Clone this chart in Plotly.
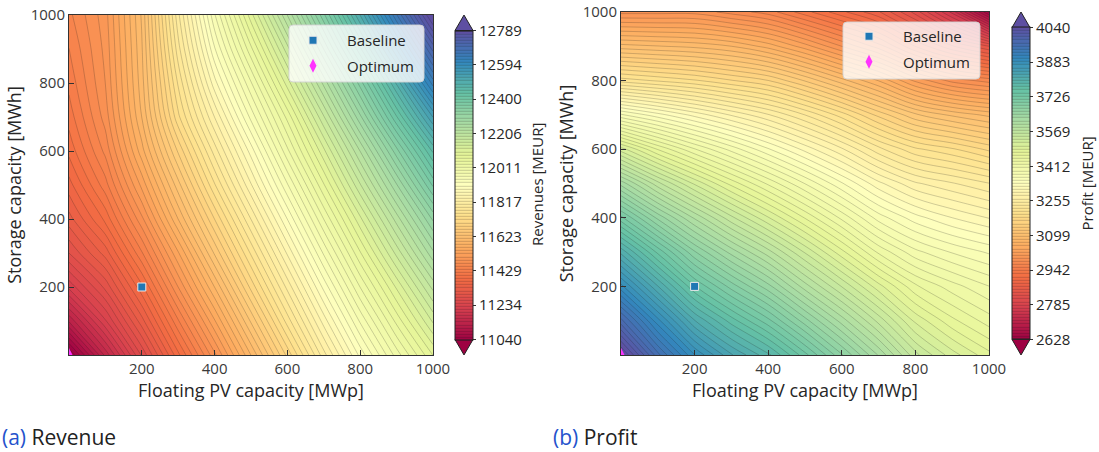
import plotly.graph_objects as go

W, H = 1099, 452

# ---------------- data ----------------
pv_capacity = [0, 100, 200, 300, 400, 500, 600, 700, 800, 900, 1000]        # MWp (x)
storage_capacity = [0, 100, 200, 300, 400, 500, 600, 700, 800, 900, 1000]   # MWh (y)

# revenue [MEUR], one row per storage capacity, columns = PV capacity
revenue = [
    [11020, 11150, 11270, 11385, 11490, 11600, 11710, 11820, 11920, 12010, 12090],
    [11130, 11230, 11330, 11440, 11545, 11655, 11765, 11870, 11970, 12060, 12145],
    [11220, 11290, 11385, 11495, 11600, 11710, 11815, 11920, 12020, 12110, 12200],
    [11285, 11345, 11440, 11545, 11655, 11760, 11865, 11970, 12070, 12165, 12260],
    [11330, 11395, 11490, 11600, 11705, 11810, 11915, 12020, 12120, 12220, 12320],
    [11365, 11435, 11535, 11645, 11755, 11860, 11965, 12070, 12175, 12280, 12390],
    [11395, 11465, 11575, 11690, 11800, 11905, 12015, 12120, 12230, 12345, 12460],
    [11415, 11485, 11600, 11735, 11845, 11955, 12060, 12175, 12295, 12420, 12545],
    [11430, 11495, 11610, 11760, 11890, 12000, 12115, 12235, 12360, 12495, 12640],
    [11442, 11500, 11615, 11785, 11930, 12050, 12170, 12300, 12435, 12580, 12725],
    [11455, 11505, 11620, 11805, 11965, 12100, 12230, 12365, 12510, 12665, 12815],
]

# profit [MEUR]
profit = [
    [4060, 3960, 3885, 3830, 3790, 3735, 3675, 3615, 3550, 3510, 3480],
    [3975, 3890, 3815, 3765, 3720, 3665, 3610, 3555, 3500, 3465, 3440],
    [3890, 3815, 3745, 3695, 3650, 3595, 3545, 3495, 3450, 3425, 3405],
    [3810, 3740, 3675, 3625, 3580, 3530, 3480, 3430, 3395, 3375, 3360],
    [3720, 3655, 3600, 3550, 3505, 3460, 3415, 3370, 3340, 3320, 3305],
    [3625, 3565, 3515, 3470, 3430, 3390, 3350, 3310, 3280, 3265, 3250],
    [3510, 3460, 3420, 3385, 3350, 3315, 3280, 3240, 3210, 3195, 3175],
    [3365, 3340, 3315, 3290, 3265, 3235, 3200, 3160, 3125, 3105, 3090],
    [3215, 3205, 3195, 3180, 3165, 3135, 3100, 3065, 3020, 2990, 2975],
    [3100, 3095, 3090, 3080, 3060, 3030, 2995, 2960, 2910, 2870, 2840],
    [2990, 2990, 2990, 2975, 2960, 2930, 2900, 2870, 2820, 2750, 2640],
]

revenue_ticks = [11040, 11234, 11429, 11623, 11817, 12011, 12206, 12400, 12594, 12789]
profit_ticks = [2628, 2785, 2942, 3099, 3255, 3412, 3569, 3726, 3883, 4040]
axis_ticks = [200, 400, 600, 800, 1000]

baseline_pv, baseline_storage = [200], [200]
optimum_pv, optimum_storage = [0], [0]

n_levels = 100

# ---------------- styling ----------------
FONT = "Open Sans"
TXT = "#262626"
spectral = ["#9e0142", "#d53e4f", "#f46d43", "#fdae61", "#fee08b", "#ffffbf",
            "#e6f598", "#abdda4", "#66c2a5", "#3288bd", "#5e4fa2"]
colorscale = [[i / 10, c] for i, c in enumerate(spectral)]


def px_x(px):
    return px / W


def px_y(py):
    return 1 - py / H


panels = [
    dict(z=revenue, ticks=revenue_ticks, title="Revenues [MEUR]",
         xdom=(69, 433), ydom=(15, 355), cb_x=455, cb_top=30.5, cb_bot=339.5,
         cb_title_x=537, leg=(289, 424, 25, 82), leg_name="legend"),
    dict(z=profit, ticks=profit_ticks, title="Profit [MEUR]",
         xdom=(621, 989), ydom=(12, 355), cb_x=1012, cb_top=27.6, cb_bot=339.4,
         cb_title_x=1087, leg=(843, 980, 22, 79), leg_name="legend2"),
]

fig = go.Figure()
shapes = []
annotations = []
cb_thick = 18

for i, p in enumerate(panels):
    xa = "x" if i == 0 else "x2"
    ya = "y" if i == 0 else "y2"
    lo, hi = p["ticks"][0], p["ticks"][-1]
    fig.add_trace(go.Contour(
        x=pv_capacity, y=storage_capacity, z=p["z"],
        xaxis=xa, yaxis=ya,
        colorscale=colorscale, zmin=lo, zmax=hi, zauto=False,
        autocontour=False,
        contours=dict(start=lo, end=hi, size=(hi - lo) / n_levels, coloring="fill"),
        line=dict(color="rgba(30,30,30,0.35)", width=0.6, smoothing=1.0),
        showlegend=False, hoverinfo="skip",
        colorbar=dict(
            x=px_x(p["cb_x"]), xanchor="left", xpad=0,
            y=px_y((p["cb_top"] + p["cb_bot"]) / 2), yanchor="middle", ypad=0,
            len=p["cb_bot"] - p["cb_top"], lenmode="pixels",
            thickness=cb_thick, thicknessmode="pixels",
            outlinewidth=1, outlinecolor="#222222",
            tickmode="array", tickvals=p["ticks"], ticktext=[str(v) for v in p["ticks"]],
            ticks="outside", ticklen=3, tickwidth=1, tickcolor="#333333",
            tickfont=dict(family=FONT, size=15, color=TXT),
        ),
    ))
    fig.add_trace(go.Scatter(
        x=baseline_pv, y=baseline_storage, xaxis=xa, yaxis=ya, mode="markers",
        name="Baseline", legend=p["leg_name"], legendgroup="b",
        marker=dict(symbol="square", size=8, color="#1f77b4", line=dict(color="#e8e8e8", width=1)),
        hoverinfo="skip",
    ))
    fig.add_trace(go.Scatter(
        x=optimum_pv, y=optimum_storage, xaxis=xa, yaxis=ya, mode="markers",
        name="Optimum", legend=p["leg_name"], legendgroup="o",
        marker=dict(symbol="diamond-tall", size=10, color="#ff33ff", line=dict(width=0)),
        hoverinfo="skip",
    ))

    # colorbar title
    annotations.append(dict(xref="paper", yref="paper", x=px_x(p["cb_title_x"]),
                            y=px_y((p["cb_top"] + p["cb_bot"]) / 2), xanchor="center", yanchor="middle",
                            textangle=-90, showarrow=False, text=p["title"],
                            font=dict(family=FONT, size=15, color=TXT)))

    # colorbar extension triangles
    x0, x1 = px_x(p["cb_x"]), px_x(p["cb_x"] + cb_thick)
    xm = (x0 + x1) / 2
    ext = (p["cb_bot"] - p["cb_top"]) * 0.05
    top_b, top_t = px_y(p["cb_top"]), px_y(p["cb_top"] - ext)
    bot_b, bot_t = px_y(p["cb_bot"]), px_y(p["cb_bot"] + ext)
    shapes.append(dict(type="path", xref="paper", yref="paper",
                       path=f"M {x0},{top_b} L {xm},{top_t} L {x1},{top_b} Z",
                       fillcolor=spectral[-1], line=dict(color="#222222", width=1)))
    shapes.append(dict(type="path", xref="paper", yref="paper",
                       path=f"M {x0},{bot_b} L {xm},{bot_t} L {x1},{bot_b} Z",
                       fillcolor=spectral[0], line=dict(color="#222222", width=1)))

    # rounded legend frame
    lx0, lx1, ly0, ly1 = p["leg"]
    r = 4
    X0, X1 = px_x(lx0), px_x(lx1)
    Y0, Y1 = px_y(ly1), px_y(ly0)
    rx, ry = r / W, r / H
    path = (f"M {X0+rx},{Y1} L {X1-rx},{Y1} Q {X1},{Y1} {X1},{Y1-ry} "
            f"L {X1},{Y0+ry} Q {X1},{Y0} {X1-rx},{Y0} L {X0+rx},{Y0} "
            f"Q {X0},{Y0} {X0},{Y0+ry} L {X0},{Y1-ry} Q {X0},{Y1} {X0+rx},{Y1} Z")
    shapes.append(dict(type="path", xref="paper", yref="paper", path=path, layer="above",
                       fillcolor="rgba(255,255,255,0.8)", line=dict(color="rgba(210,210,210,0.9)", width=1)))

axis_common = dict(
    range=[0, 1000], tickmode="array", tickvals=axis_ticks, automargin=False,
    ticks="inside", ticklen=5, tickwidth=1, tickcolor="#333333",
    showline=True, linecolor="#333333", linewidth=1, mirror=True,
    showgrid=False, zeroline=False,
    tickfont=dict(family=FONT, size=15, color="#3a3a3a"),
)

leg_common = dict(xanchor="left", yanchor="top", bgcolor="rgba(0,0,0,0)", borderwidth=0,
                  font=dict(family=FONT, size=15, color=TXT), itemwidth=58,
                  tracegroupgap=3, traceorder="grouped")

annotations += [
    dict(xref="paper", yref="paper", x=0, y=px_y(437), xanchor="left", yanchor="middle",
         showarrow=False, font=dict(family=FONT, size=21, color="#222222"),
         text="<span style='color:#2452cc'>(a)</span> Revenue"),
    dict(xref="paper", yref="paper", x=px_x(551), y=px_y(437), xanchor="left", yanchor="middle",
         showarrow=False, font=dict(family=FONT, size=21, color="#222222"),
         text="<span style='color:#2452cc'>(b)</span> Profit"),
]

fig.update_layout(
    width=W, height=H, margin=dict(l=0, r=0, t=0, b=0, autoexpand=False),
    paper_bgcolor="white", plot_bgcolor="white",
    font=dict(family=FONT, size=15, color=TXT),
    xaxis=dict(domain=[px_x(69), px_x(433)], anchor="y",
               title=dict(text="Floating PV capacity [MWp]", standoff=4), **axis_common),
    yaxis=dict(domain=[px_y(355), px_y(15)], anchor="x",
               title=dict(text="Storage capacity [MWh]", standoff=4), **axis_common),
    xaxis2=dict(domain=[px_x(621), px_x(989)], anchor="y2",
                title=dict(text="Floating PV capacity [MWp]", standoff=4), **axis_common),
    yaxis2=dict(domain=[px_y(355), px_y(12)], anchor="x2",
                title=dict(text="Storage capacity [MWh]", standoff=4), **axis_common),
    legend=dict(x=px_x(279), y=px_y(24), **leg_common),
    legend2=dict(x=px_x(835), y=px_y(20), **leg_common),
    shapes=shapes,
    annotations=annotations,
)

fig.write_html("out.html", config={"displayModeBar": False},
               post_script="document.body.style.margin='0';")
